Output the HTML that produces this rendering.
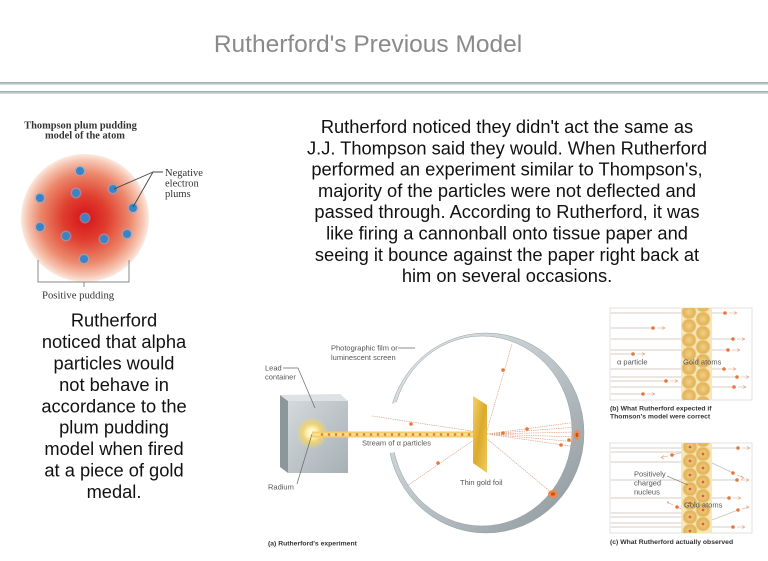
<!DOCTYPE html>
<html><head><meta charset="utf-8">
<style>
html,body{margin:0;padding:0;background:#fff;}
svg{display:block;}
.big{font-family:"Liberation Sans",Arial,sans-serif;font-size:18.3px;fill:#111;text-anchor:middle;}
.ser{font-family:"Liberation Serif","Times New Roman",serif;fill:#333;}
.lab{font-family:"Liberation Sans",Arial,sans-serif;font-size:7.5px;fill:#555;}
.cap{font-family:"Liberation Sans",Arial,sans-serif;font-size:6.8px;font-weight:bold;fill:#333;}
</style></head>
<body>
<svg width="768" height="561" viewBox="0 0 768 561" xmlns="http://www.w3.org/2000/svg">
<defs>
 <linearGradient id="rule" x1="0" y1="0" x2="0" y2="1">
  <stop offset="0" stop-color="#97a5a9"/><stop offset="1" stop-color="#dde3e4"/>
 </linearGradient>
 <radialGradient id="pud" cx="85" cy="218" r="64" gradientUnits="userSpaceOnUse">
  <stop offset="0" stop-color="#d6121c"/>
  <stop offset="0.35" stop-color="#e03e2e"/>
  <stop offset="0.7" stop-color="#ec876b"/>
  <stop offset="0.9" stop-color="#f6c4b0"/>
  <stop offset="1" stop-color="#fce9e1"/>
 </radialGradient>
 <linearGradient id="front" x1="0" y1="0" x2="1" y2="1">
  <stop offset="0" stop-color="#d3d9dc"/><stop offset="1" stop-color="#a7b0b5"/>
 </linearGradient>
 <radialGradient id="glow" cx="312" cy="433" r="16" gradientUnits="userSpaceOnUse">
  <stop offset="0" stop-color="#ffffff"/>
  <stop offset="0.3" stop-color="#fff3b8"/>
  <stop offset="0.6" stop-color="#f8d55c" stop-opacity="0.8"/>
  <stop offset="1" stop-color="#f8d55c" stop-opacity="0"/>
 </radialGradient>
 <linearGradient id="ring" x1="0" y1="0" x2="1" y2="1">
  <stop offset="0" stop-color="#e6eaec"/><stop offset="0.5" stop-color="#bcc4c8"/><stop offset="1" stop-color="#8a959a"/>
 </linearGradient>
 <linearGradient id="foil" x1="0" y1="0" x2="1" y2="1">
  <stop offset="0" stop-color="#f4d36a"/><stop offset="0.5" stop-color="#dcaa2c"/><stop offset="1" stop-color="#f0cc60"/>
 </linearGradient>
 <radialGradient id="atom">
  <stop offset="0" stop-color="#f1cf84"/><stop offset="0.8" stop-color="#e2b35a"/><stop offset="1" stop-color="#f3dca0"/>
 </radialGradient>
 <clipPath id="cb"><rect x="610" y="308" width="142" height="92"/></clipPath>
 <clipPath id="cc"><rect x="610" y="443" width="142" height="90"/></clipPath>
</defs>

<!-- Title -->
<text x="368" y="52" font-family="Liberation Sans, Arial, sans-serif" font-size="24.5" fill="#8a8a8a" text-anchor="middle">Rutherford's Previous Model</text>
<rect x="0" y="82" width="768" height="3" fill="url(#rule)"/>
<rect x="0" y="91" width="768" height="3" fill="url(#rule)"/>

<!-- Right paragraph -->
<text class="big" x="507" y="133">Rutherford noticed they didn't act the same as</text>
<text class="big" x="507" y="154.3">J.J. Thompson said they would. When Rutherford</text>
<text class="big" x="507" y="175.6">performed an experiment similar to Thompson's,</text>
<text class="big" x="507" y="196.9">majority of the particles were not deflected and</text>
<text class="big" x="507" y="218.2">passed through. According to Rutherford, it was</text>
<text class="big" x="507" y="239.5">like firing a cannonball onto tissue paper and</text>
<text class="big" x="507" y="260.8">seeing it bounce against the paper right back at</text>
<text class="big" x="507" y="282.1">him on several occasions.</text>

<!-- Left paragraph -->
<text class="big" x="114" y="326.7">Rutherford</text>
<text class="big" x="114" y="348.1">noticed that alpha</text>
<text class="big" x="114" y="369.5">particles would</text>
<text class="big" x="114" y="390.9">not behave in</text>
<text class="big" x="114" y="412.3">accordance to the</text>
<text class="big" x="114" y="433.7">plum pudding</text>
<text class="big" x="114" y="455.1">model when fired</text>
<text class="big" x="114" y="476.5">at a piece of gold</text>
<text class="big" x="114" y="497.9">medal.</text>

<!-- Plum pudding figure -->
<text class="ser" x="80.5" y="128.5" font-size="10.4" font-weight="bold" text-anchor="middle" fill="#222">Thompson plum pudding</text>
<text class="ser" x="85" y="138.5" font-size="10.4" font-weight="bold" text-anchor="middle" fill="#222">model of the atom</text>
<circle cx="85" cy="218" r="64" fill="url(#pud)"/>
<g fill="#7fb3de" opacity="0.55">
 <circle cx="80" cy="171" r="5.5"/><circle cx="76" cy="193" r="5.5"/><circle cx="113" cy="189" r="5.5"/>
 <circle cx="40" cy="198" r="5.5"/><circle cx="133" cy="208" r="5.5"/><circle cx="85" cy="218" r="5.5"/>
 <circle cx="40" cy="227" r="5.5"/><circle cx="66" cy="236" r="5.5"/><circle cx="104" cy="239" r="5.5"/>
 <circle cx="127" cy="234" r="5.5"/><circle cx="84" cy="259" r="5.5"/>
</g>
<g fill="#3a83c4">
 <circle cx="80" cy="171" r="4"/><circle cx="76" cy="193" r="4"/><circle cx="113" cy="189" r="4"/>
 <circle cx="40" cy="198" r="4"/><circle cx="133" cy="208" r="4"/><circle cx="85" cy="218" r="4"/>
 <circle cx="40" cy="227" r="4"/><circle cx="66" cy="236" r="4"/><circle cx="104" cy="239" r="4"/>
 <circle cx="127" cy="234" r="4"/><circle cx="84" cy="259" r="4"/>
</g>
<path d="M114,189 L153,172 M133,207 L153,172 L163,172" stroke="#444" stroke-width="0.9" fill="none"/>
<text class="ser" x="165" y="176" font-size="10.5">Negative</text>
<text class="ser" x="165" y="186.5" font-size="10.5">electron</text>
<text class="ser" x="165" y="197" font-size="10.5">plums</text>
<path d="M38,260 V282 H129 V260 M84,282 V287" stroke="#888" stroke-width="1" fill="none"/>
<text class="ser" x="42" y="298.5" font-size="10.7">Positive  pudding</text>

<!-- Rutherford experiment -->
<!-- ring -->
<path d="M388,433 A98,100 0 1,1 584,433 A98,100 0 1,1 388,433 Z M392,431 A90,95 0 1,0 572,431 A90,95 0 1,0 392,431 Z" fill="url(#ring)" fill-rule="evenodd" stroke="#949fa4" stroke-width="0.5"/>
<polygon points="378,409 402,400 402,451 378,455" fill="#fff"/>

<!-- box -->
<polygon points="280,395 288,401 288,473 280,467" fill="#8c969b"/>
<polygon points="280,395 340,394 348,401 288,401" fill="#dde2e5"/>
<rect x="288" y="401" width="60" height="72" fill="url(#front)"/>
<circle cx="312" cy="433" r="16" fill="url(#glow)"/>

<!-- beam -->
<rect x="312" y="431.5" width="166" height="6" fill="#f5cd66"/>
<rect x="312" y="433.5" width="166" height="2" fill="#fbe4a2"/>
<g fill="#e07b38">
 <circle cx="322" cy="434.5" r="1.3"/><circle cx="329" cy="434.5" r="1.3"/><circle cx="336" cy="434.5" r="1.3"/>
 <circle cx="343" cy="434.5" r="1.3"/><circle cx="350" cy="434.5" r="1.3"/><circle cx="357" cy="434.5" r="1.3"/>
 <circle cx="364" cy="434.5" r="1.3"/><circle cx="371" cy="434.5" r="1.3"/><circle cx="378" cy="434.5" r="1.3"/>
 <circle cx="385" cy="434.5" r="1.3"/><circle cx="392" cy="434.5" r="1.3"/><circle cx="399" cy="434.5" r="1.3"/>
 <circle cx="406" cy="434.5" r="1.3"/><circle cx="413" cy="434.5" r="1.3"/><circle cx="420" cy="434.5" r="1.3"/>
 <circle cx="427" cy="434.5" r="1.3"/><circle cx="434" cy="434.5" r="1.3"/><circle cx="441" cy="434.5" r="1.3"/>
 <circle cx="448" cy="434.5" r="1.3"/><circle cx="455" cy="434.5" r="1.3"/><circle cx="462" cy="434.5" r="1.3"/>
 <circle cx="469" cy="434.5" r="1.3"/>
</g>

<!-- rays -->
<g stroke="#d9a58c" stroke-width="0.7" fill="none" stroke-dasharray="1.5 0.8">
 <path d="M486,434 L512,344"/>
 <path d="M478,432 L372,416"/>
 <path d="M478,437 L407,486"/>
 <path d="M486,438 L553,494"/>
 <path d="M487,434 L577,422 M487,434 L577,427 M487,434 L577,432 M487,434 L577,437 M487,434 L577,442 M487,434 L577,447"/>
</g>
<polygon points="473,396 487,405 487,473 473,463" fill="url(#foil)"/>
<g fill="#e8763a">
 <circle cx="503" cy="370" r="1.8"/><circle cx="411" cy="424" r="1.8"/><circle cx="438" cy="463" r="1.8"/>
 <circle cx="527" cy="429" r="1.8"/><circle cx="503" cy="433" r="1.8"/><circle cx="569" cy="440" r="1.8"/><circle cx="561" cy="445" r="1.8"/>
</g>
<ellipse cx="553" cy="494" rx="5" ry="4" fill="#ee8a4a"/><ellipse cx="553" cy="494" rx="2.2" ry="1.6" fill="#c9501e"/>
<ellipse cx="577" cy="435" rx="3" ry="5" fill="#ee8a4a"/><ellipse cx="577" cy="435" rx="1.3" ry="2.2" fill="#c9501e"/>

<!-- labels -->
<text class="lab" x="331" y="350.5">Photographic film or</text>
<text class="lab" x="331" y="360">luminescent screen</text>
<path d="M398,348 H415" stroke="#666" stroke-width="0.7"/>
<text class="lab" x="265" y="370.5">Lead</text>
<text class="lab" x="265" y="379.5">container</text>
<path d="M283,368 H298 L315,408" stroke="#666" stroke-width="0.7" fill="none"/>
<text class="lab" x="268" y="489.5">Radium</text>
<path d="M297,484 L312,434" stroke="#666" stroke-width="0.7"/>
<text class="lab" x="362" y="445.5">Stream of α particles</text>
<text class="lab" x="460" y="485">Thin gold  foil</text>
<text class="cap" x="268" y="545.5" font-size="7">(a) Rutherford's experiment</text>

<!-- Panel b -->
<rect x="610" y="308" width="142" height="92" fill="#fff" stroke="#d9d9d9" stroke-width="0.8"/>
<g stroke="#cdbfb4" stroke-width="0.7">
 <path d="M611,313 H725 M611,328 H653 M611,339 H733 M611,350 H728 M611,354 H633 M611,369 H724 M611,377 H737 M611,381 H666 M611,387 H734 M611,394 H643"/>
</g>
<g clip-path="url(#cb)">
 <rect x="681" y="308" width="31" height="92" fill="#f8e6b8"/>
 <g fill="url(#atom)">
  <circle cx="689" cy="312" r="7.5"/><circle cx="689" cy="326" r="7.5"/><circle cx="689" cy="340" r="7.5"/>
  <circle cx="689" cy="354" r="7.5"/><circle cx="689" cy="368" r="7.5"/><circle cx="689" cy="382" r="7.5"/><circle cx="689" cy="396" r="7.5"/>
  <circle cx="703" cy="305" r="7.5"/><circle cx="703" cy="319" r="7.5"/><circle cx="703" cy="333" r="7.5"/><circle cx="703" cy="347" r="7.5"/>
  <circle cx="703" cy="361" r="7.5"/><circle cx="703" cy="375" r="7.5"/><circle cx="703" cy="389" r="7.5"/><circle cx="703" cy="403" r="7.5"/>
 </g>
</g>
<g fill="#e8763a">
 <circle cx="725" cy="313" r="1.8"/><circle cx="653" cy="328" r="1.8"/><circle cx="733" cy="339" r="1.8"/>
 <circle cx="728" cy="350" r="1.8"/><circle cx="633" cy="354" r="1.8"/><circle cx="724" cy="369" r="1.8"/>
 <circle cx="737" cy="377" r="1.8"/><circle cx="666" cy="381" r="1.8"/><circle cx="734" cy="387" r="1.8"/><circle cx="643" cy="394" r="1.8"/>
</g>
<g stroke="#e0a080" stroke-width="0.6" fill="none">
 <path d="M729,313 H737 M734,311.5 L737,313 L734,314.5"/>
 <path d="M657,328 H665 M662,326.5 L665,328 L662,329.5"/>
 <path d="M737,339 H745 M742,337.5 L745,339 L742,340.5"/>
 <path d="M732,350 H740 M737,348.5 L740,350 L737,351.5"/>
 <path d="M637,354 H645 M642,352.5 L645,354 L642,355.5"/>
 <path d="M728,369 H736 M733,367.5 L736,369 L733,370.5"/>
 <path d="M741,377 H749 M746,375.5 L749,377 L746,378.5"/>
 <path d="M670,381 H678 M675,379.5 L678,381 L675,382.5"/>
 <path d="M738,387 H746 M743,385.5 L746,387 L743,388.5"/>
 <path d="M647,394 H655 M652,392.5 L655,394 L652,395.5"/>
</g>
<text class="lab" x="617" y="364.5" font-size="7" fill="#777">α particle</text>
<text class="lab" x="683" y="364.5" font-size="7" fill="#777">Gold atoms</text>
<text class="cap" x="610" y="410.5">(b) What Rutherford expected if</text>
<text class="cap" x="610" y="418.5">Thomson's model were correct</text>

<!-- Panel c -->
<rect x="610" y="443" width="142" height="90" fill="#fff" stroke="#d9d9d9" stroke-width="0.8"/>
<g stroke="#cdbfb4" stroke-width="0.7" fill="none">
 <path d="M611,448 H738 M611,452 H684 M611,462 H690 M611,480 H737 M611,498 H729 M611,513 H690 M611,517 H696 M611,523 H690 M611,527 H733"/>
 <path d="M684,452 L672,455 M710,462 L733,473 M690,513 L677,507 M712,520 L738,510"/>
</g>
<g clip-path="url(#cc)">
 <rect x="681" y="443" width="31" height="90" fill="#f8e6b8"/>
 <g fill="url(#atom)">
  <circle cx="690" cy="447" r="7.5"/><circle cx="690" cy="461" r="7.5"/><circle cx="690" cy="475" r="7.5"/><circle cx="690" cy="489" r="7.5"/>
  <circle cx="690" cy="503" r="7.5"/><circle cx="690" cy="517" r="7.5"/><circle cx="690" cy="531" r="7.5"/>
  <circle cx="703" cy="440" r="7.5"/><circle cx="703" cy="454" r="7.5"/><circle cx="703" cy="468" r="7.5"/><circle cx="703" cy="482" r="7.5"/>
  <circle cx="703" cy="496" r="7.5"/><circle cx="703" cy="510" r="7.5"/><circle cx="703" cy="524" r="7.5"/>
 </g>
 <g fill="#d9603c">
  <circle cx="690" cy="447" r="1.4"/><circle cx="690" cy="461" r="1.4"/><circle cx="690" cy="475" r="1.4"/><circle cx="690" cy="489" r="1.4"/>
  <circle cx="690" cy="503" r="1.4"/><circle cx="690" cy="517" r="1.4"/><circle cx="690" cy="531" r="1.4"/>
  <circle cx="703" cy="440" r="1.4"/><circle cx="703" cy="454" r="1.4"/><circle cx="703" cy="468" r="1.4"/><circle cx="703" cy="482" r="1.4"/>
  <circle cx="703" cy="496" r="1.4"/><circle cx="703" cy="510" r="1.4"/><circle cx="703" cy="524" r="1.4"/>
 </g>
</g>
<g fill="#e8763a">
 <circle cx="738" cy="448" r="1.8"/><circle cx="672" cy="455" r="1.8"/><circle cx="733" cy="473" r="1.8"/>
 <circle cx="737" cy="480" r="1.8"/><circle cx="729" cy="498" r="1.8"/><circle cx="677" cy="507" r="1.8"/>
 <circle cx="738" cy="510" r="1.8"/><circle cx="733" cy="527" r="1.8"/>
</g>
<g stroke="#e0a080" stroke-width="0.6" fill="none">
 <path d="M742,448 H750 M747,446.5 L750,448 L747,449.5"/>
 <path d="M668,456 L661,457.5 M664,455.5 L661,457.5 L664,459"/>
 <path d="M737,475 L744,478 M741,476 L744,478 L741,479.5"/>
 <path d="M741,480 H749 M746,478.5 L749,480 L746,481.5"/>
 <path d="M733,498 H741 M738,496.5 L741,498 L738,499.5"/>
 <path d="M673,505 L667,502 M669,501.5 L667,502 L668.5,504"/>
 <path d="M742,509 L749,507 M746,505.8 L749,507 L746.5,508.7"/>
 <path d="M737,527 H745 M742,525.5 L745,527 L742,528.5"/>
</g>
<text class="lab" x="634" y="476.5" font-size="7" fill="#777">Positively</text>
<text class="lab" x="634" y="485.5" font-size="7" fill="#777">charged</text>
<text class="lab" x="634" y="494.5" font-size="7" fill="#777">nucleus</text>
<path d="M667,476 L688,485" stroke="#666" stroke-width="0.6"/>
<text class="lab" x="684" y="507.5" font-size="7" fill="#777">Gold atoms</text>
<text class="cap" x="610" y="544">(c) What Rutherford actually observed</text>
</svg>
</body></html>
